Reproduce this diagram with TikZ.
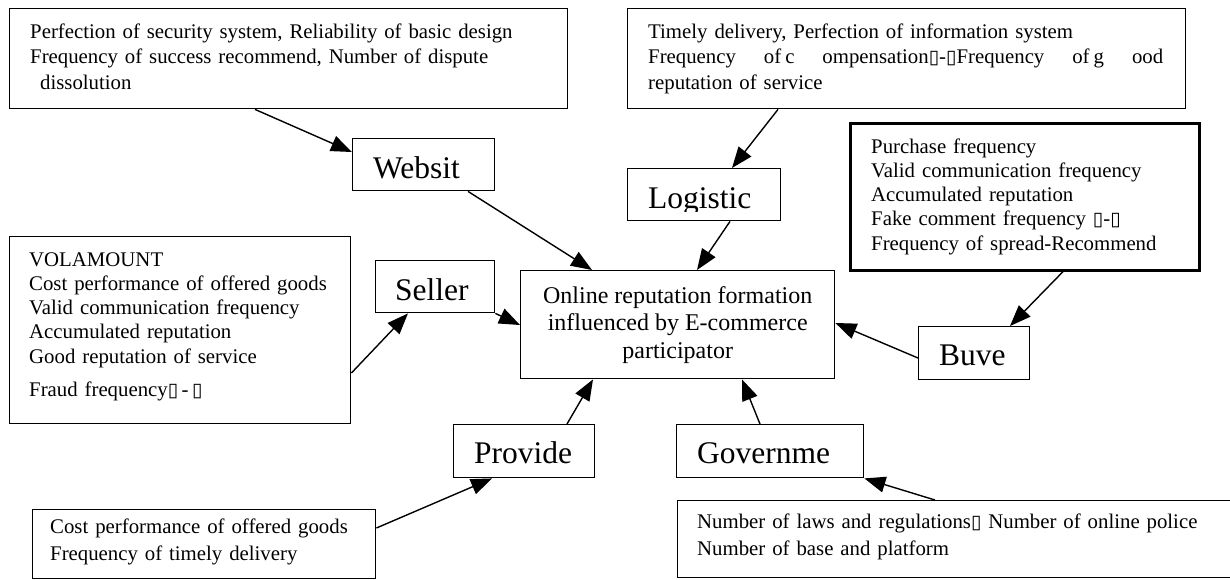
\documentclass[tikz,border=0pt]{standalone}
\usepackage{fontspec}
\setmainfont{Liberation Serif}
\newfontfamily\dejavu{DejaVu Sans}
\usetikzlibrary{arrows.meta,calc}
\newcommand\wsq{{\dejavu\fontsize{19}{19}\selectfont ▯}}
\begin{document}
\begin{tikzpicture}[x=1pt,y=-1pt,
  frame/.style={draw, line width=1.4pt, inner sep=0pt, anchor=north west},
  body/.style={anchor=base west, inner sep=0pt, text width=545pt, font=\fontsize{20.8}{#1}\selectfont},
  body/.default=25.5,
  lab/.style={draw, line width=1.4pt, inner sep=0pt, anchor=north west, minimum height=52pt},
  labtxt/.style={anchor=base west, inner sep=0pt, font=\fontsize{31.5}{36}\selectfont},
  arr/.style={line width=1.4pt, -{Triangle[length=21pt,width=16pt]}}
]
\clip (0,0) rectangle (1230,579);
\fill[white] (0,0) rectangle (1230,579);

% text boxes
\node[frame, minimum width=558pt, minimum height=100pt] (A) at (9,8) {};
\node[body] (At) at ($(A.north west)+(21,30)$) {Perfection of security system, Reliability of basic design\\Frequency of success recommend, Number of dispute\\\hspace*{10pt}dissolution};

\node[frame, minimum width=558pt, minimum height=100pt] (B) at (627,8) {};
\node[body] (Bt) at ($(B.north west)+(21,30)$) {Timely delivery, Perfection of information system\\\leavevmode\hbox to 515pt{Frequency\hfill of\hspace{4pt}c\hfill ompensation\wsq-\wsq Frequency\hfill of\hspace{4pt}g\hfill ood}\\reputation of service};

\node[frame, line width=2.6pt, minimum width=349pt, minimum height=147pt] (Y) at (849,122) {};
\node[body=24.3] (Yt) at ($(Y.north west)+(22,31)$) {Purchase frequency\\Valid communication frequency\\Accumulated reputation\\Fake comment frequency \wsq-\wsq\\Frequency of spread-Recommend};

\node[frame, minimum width=341pt, minimum height=187pt] (S) at (9,236) {};
\node[body=24.3] (St) at ($(S.north west)+(20,30)$) {VOLAMOUNT\\Cost performance of offered goods\\Valid communication frequency\\Accumulated reputation\\Good reputation of service\\[8.5pt]Fraud frequency\wsq\,-\,\wsq};

\node[frame, minimum width=343pt, minimum height=69pt] (P) at (32,509) {};
\node[body=27] (Pt) at ($(P.north west)+(18,24)$) {Cost performance of offered goods\\Frequency of timely delivery};

\node[frame, minimum width=563pt, minimum height=77pt] (G) at (677,500) {};
\node[body=27] (Gt) at ($(G.north west)+(20,28)$) {Number of laws and regulations\wsq{} Number of online police\\Number of base and platform};

% centre
\node[draw, line width=1.4pt, inner sep=0pt, anchor=north west, minimum width=314pt, minimum height=108pt, align=center, font=\fontsize{24}{27.5}\selectfont] (ctr) at (520,270) {Online reputation formation\\influenced by E-commerce\\participator};

% labels
\node[lab, minimum width=142pt] (web) at (352,138) {};
\node[labtxt] (webt) at ($(web.north west)+(21,40)$) {Websit};

\node[lab, minimum width=153pt] (log) at (627,168) {};
\begin{scope}
\clip (log.north west) rectangle ($(log.north east)+(0,43)$);
\node[labtxt] (logt) at ($(log.north west)+(21,40)$) {Logistic};
\end{scope}

\node[lab, minimum width=119pt] (sel) at (375,260) {};
\node[labtxt] (selt) at ($(sel.north west)+(20,40)$) {Seller};

\node[lab, minimum width=111pt, minimum height=53pt] (buy) at (918,326) {};
\node[labtxt] (buyt) at ($(buy.north west)+(21,39)$) {Buve};

\node[lab, minimum width=141pt, minimum height=53pt] (prov) at (453,424) {};
\node[labtxt] (provt) at ($(prov.north west)+(21,39)$) {Provide};

\node[lab, minimum width=187pt, minimum height=53pt] (gov) at (676,424) {};
\node[labtxt] (govt) at ($(gov.north west)+(21,39)$) {Governme};

% connectors
\draw[arr] ($(A.south west)+(246,0)$) -- ($(web.north west)+(0,14)$);
\draw[arr] ($(web.south west)+(116,0)$) -- ($(ctr.north west)+(72,0)$);
\draw[arr] ($(B.south west)+(151,0)$) -- ($(log.north west)+(105,0)$);
\draw[arr] ($(log.south west)+(103,0)$) -- ($(ctr.north west)+(177,0)$);
\draw[arr] ($(S.north east)+(0,137)$) -- ($(sel.south west)+(33,0)$);
\draw[arr] (sel.south east) -- ($(ctr.north west)+(0,55)$);
\draw[arr] ($(Y.south west)+(214,0)$) -- ($(buy.north west)+(92,0)$);
\draw[arr] ($(buy.north west)+(0,32)$) -- ($(ctr.north east)+(0,53)$);
\draw[arr] ($(prov.north west)+(114,0)$) -- ($(ctr.south west)+(73,0)$);
\draw[arr] ($(gov.north west)+(84,0)$) -- ($(ctr.south west)+(222,0)$);
\draw[arr] ($(P.north east)+(0,19)$) -- ($(prov.south west)+(39,0)$);
\draw[arr] ($(G.north west)+(258,0)$) -- (gov.south east);
\end{tikzpicture}
\end{document}
